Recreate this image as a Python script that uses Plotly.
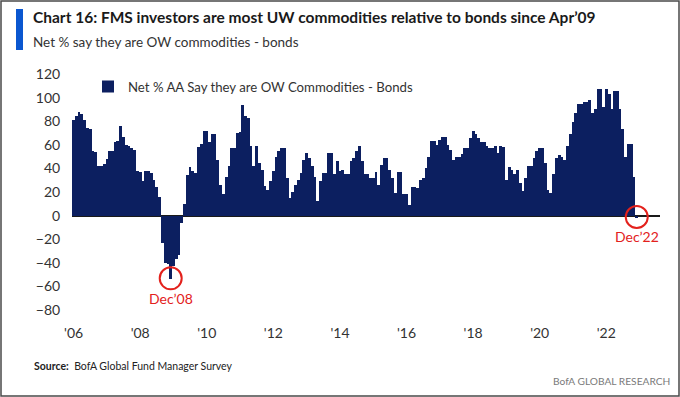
import pandas as pd
import plotly.graph_objects as go

# ---- data ----
start_month = "2006-01-01"
y2006 = [81, 84, 88, 86, 81, 74, 73, 55, 54, 42, 42, 44]
y2007 = [48, 55, 55, 62, 63, 76, 67, 60, 59, 57, 56, 38]
y2008 = [37, 29, 38, 38, 36, 30, 24, 16, -23, -40, -41, -54]
y2009 = [-43, -37, -33, -6, 10, 34, 41, 38, 36, 58, 61, 72]
y2010 = [72, 62, 69, 69, 47, 26, 18, 33, 42, 57, 57, 70]
y2011 = [71, 94, 84, 83, 59, 42, 59, 45, 39, 25, 22, 29]
y2012 = [38, 50, 55, 57, 57, 32, 15, 20, 26, 30, 36, 47]
y2013 = [53, 49, 42, 33, 12, 29, 36, 36, 53, 53, 35, 46]
y2014 = [38, 39, 35, 35, 46, 49, 55, 59, 46, 35, 35, 32]
y2015 = [32, 37, 26, 43, 49, 49, 39, 32, 19, 37, 37, 18]
y2016 = [18, 9, 24, 24, 23, 30, 32, 40, 50, 63, 63, 60]
y2017 = [64, 67, 67, 60, 56, 47, 50, 50, 52, 57, 57, 66]
y2018 = [72, 69, 66, 62, 62, 59, 57, 57, 59, 53, 59, 58]
y2019 = [30, 41, 39, 35, 39, 28, 21, 32, 42, 42, 49, 55]
y2020 = [57, 57, 45, 22, 19, 35, 49, 51, 50, 47, 59, 69]
y2021 = [79, 87, 95, 95, 96, 96, 98, 87, 90, 107, 107, 92]
y2022 = [107, 103, 90, 106, 106, 90, 73, 50, 61, 61, 33, -2]

tick_years = [2006, 2008, 2010, 2012, 2014, 2016, 2018, 2020, 2022]
tick_labels = ["'06", "'08", "'10", "'12", "'14", "'16", "'18", "'20", "'22"]
y_ticks = [-80, -60, -40, -20, 0, 20, 40, 60, 80, 100, 120]

series_name = "Net % AA Say they are OW Commodities - Bonds"
callouts = [("2008-12-01", "Dec’08"), ("2022-12-01", "Dec’22")]

values = (y2006 + y2007 + y2008 + y2009 + y2010 + y2011 + y2012 + y2013 +
          y2014 + y2015 + y2016 + y2017 + y2018 + y2019 + y2020 + y2021 + y2022)
dates = pd.date_range(start_month, periods=len(values), freq="MS")
val_by_date = dict(zip(dates.strftime("%Y-%m-%d"), values))

# ---- layout geometry (pixels) ----
W, H = 680, 397
L, R, T, B = 72, 20, 74, 87
PW, PH = W - L - R, H - T - B


def px(x):
    return (x - L) / PW


def py(y):
    return 1 - (y - T) / PH


NAVY = "#0c1f60"
RED = "#e3211c"
TXT = "#333333"
FONT = "Lato, Roboto, Arial, sans-serif"

fig = go.Figure()
fig.add_trace(go.Bar(
    x=dates, y=values, name=series_name,
    marker=dict(color=NAVY, line=dict(width=0)),
    width=31 * 24 * 3600 * 1000,
    showlegend=True,
))

shapes = [
    # outer frame
    dict(type="rect", xref="paper", yref="paper", x0=px(1), x1=px(679), y0=py(396), y1=py(1),
         line=dict(color="#4a4a4a", width=1.5), layer="above"),
    # blue title marker
    dict(type="rect", xref="paper", yref="paper", x0=px(16), x1=px(23), y0=py(50), y1=py(9),
         fillcolor="#0a57d0", line=dict(width=0)),
]
annotations = [
    dict(text="<b>Chart 16: FMS investors are most UW commodities relative to bonds since Apr’09</b>",
         xref="paper", yref="paper", x=px(31), y=py(17), xanchor="left", yanchor="middle",
         showarrow=False, font=dict(family=FONT, size=15.5, color="#1a1a1a")),
    dict(text="Net % say they are OW commodities - bonds",
         xref="paper", yref="paper", x=px(31), y=py(42), xanchor="left", yanchor="middle",
         showarrow=False, font=dict(family=FONT, size=13.5, color=TXT)),
    dict(text="<b>Source:</b>  BofA Global Fund Manager Survey",
         xref="paper", yref="paper", x=px(32), y=py(366), xanchor="left", yanchor="middle",
         showarrow=False, font=dict(family=FONT, size=10.5, color="#222222")),
    dict(text="BofA GLOBAL RESEARCH",
         xref="paper", yref="paper", x=px(672), y=py(381), xanchor="right", yanchor="middle",
         showarrow=False, font=dict(family=FONT, size=10.2, color="#7a7a7a")),
]
for d, lab in callouts:
    v = val_by_date[d]
    shapes.append(dict(type="circle", xref="x", yref="y", xsizemode="pixel", ysizemode="pixel",
                       xanchor=d, yanchor=min(v, 0), x0=-11, x1=11, y0=-10, y1=12,
                       line=dict(color=RED, width=2), layer="above"))
    annotations.append(dict(text=lab, xref="x", yref="y", x=d, y=min(v, 0), yshift=-19,
                            xanchor="center", yanchor="middle", showarrow=False,
                            font=dict(family=FONT, size=14, color=RED)))

fig.update_layout(
    width=W, height=H,
    margin=dict(l=L, r=R, t=T, b=B, pad=0),
    paper_bgcolor="white", plot_bgcolor="white",
    bargap=0,
    font=dict(family=FONT, size=13, color=TXT),
    shapes=shapes, annotations=annotations,
    legend=dict(x=px(88), y=py(87), xanchor="left", yanchor="middle",
                bgcolor="rgba(0,0,0,0)", font=dict(family=FONT, size=13.2, color=TXT),
                itemwidth=30),
    xaxis=dict(type="date", range=["2005-12-14", "2023-08-13"],
               tickmode="array", tickvals=[f"{y}-01-01" for y in tick_years], ticktext=tick_labels,
               showgrid=False, showline=False, zeroline=False,
               ticks="outside", ticklen=10, tickcolor="rgba(0,0,0,0)",
               tickfont=dict(family=FONT, size=14, color=TXT)),
    yaxis=dict(range=[-80, 120], tickmode="array", tickvals=y_ticks,
               showgrid=False, showline=False,
               zeroline=True, zerolinecolor="#1a1a1a", zerolinewidth=1.5,
               ticks="outside", ticklen=8, tickcolor="rgba(0,0,0,0)",
               tickfont=dict(family=FONT, size=14, color=TXT)),
)

fig.write_html("out.html", config={"displayModeBar": False},
               post_script="document.body.style.margin='0';")
